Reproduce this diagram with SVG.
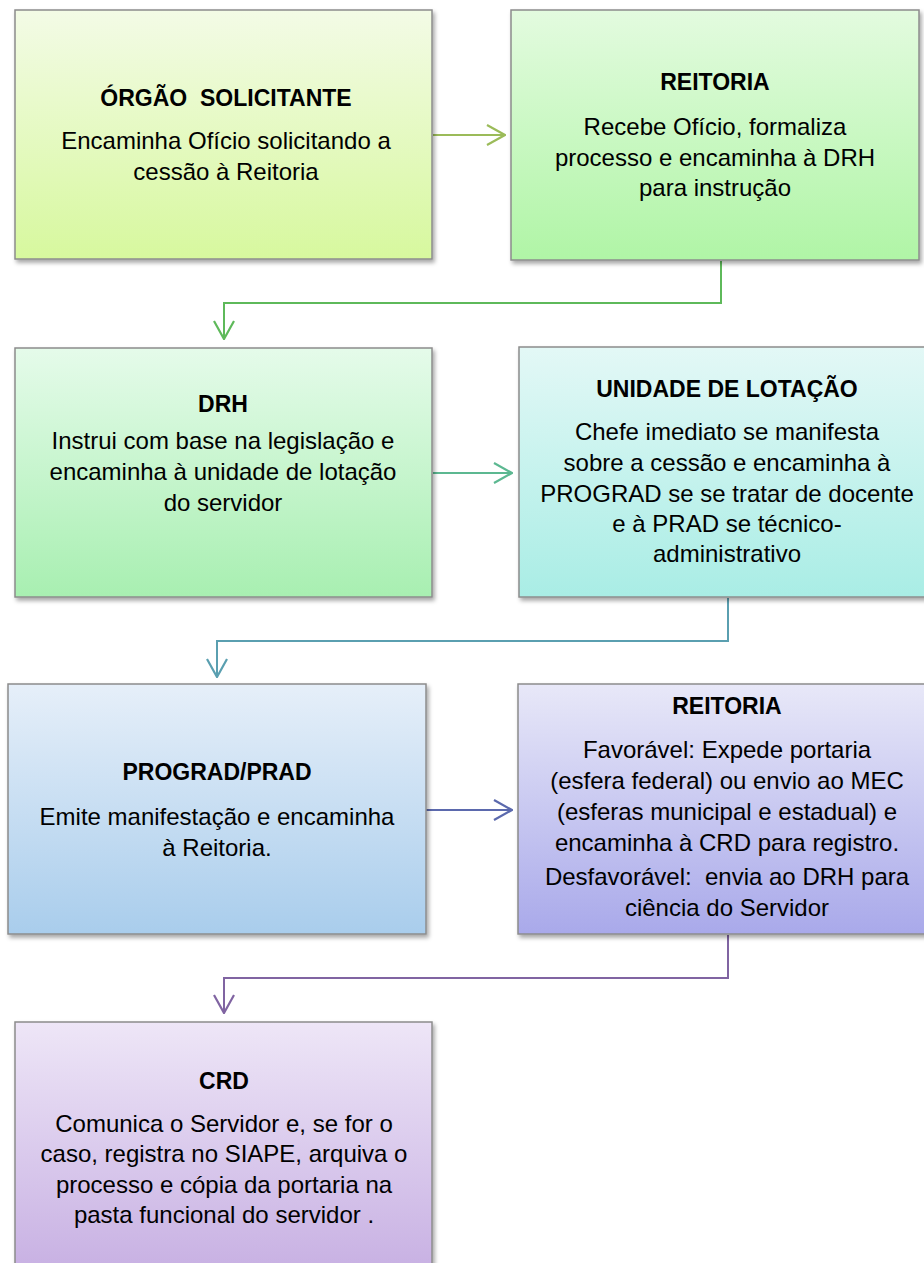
<svg xmlns="http://www.w3.org/2000/svg" width="924" height="1263" viewBox="0 0 924 1263">
<style>
.box{stroke:#8c8c8c;stroke-width:1.5;filter:url(#sh)}
.t{font-family:"Liberation Sans",Arial,sans-serif;font-size:24px;fill:#000;text-anchor:middle;white-space:pre}
.b{font-weight:bold;font-size:23px}
.c{fill:none;stroke-width:2}
</style>
<defs>
<filter id="sh" x="-5%" y="-5%" width="112%" height="115%">
<feDropShadow dx="2" dy="3" stdDeviation="2" flood-color="#000" flood-opacity="0.35"/>
</filter>
<linearGradient id="g1" x1="0" y1="0" x2="0" y2="1"><stop offset="0" stop-color="#f3fbe6"/><stop offset="1" stop-color="#d7f89e"/></linearGradient>
<linearGradient id="g2" x1="0" y1="0" x2="0" y2="1"><stop offset="0" stop-color="#e3fbdf"/><stop offset="1" stop-color="#b0f5a6"/></linearGradient>
<linearGradient id="g3" x1="0" y1="0" x2="0" y2="1"><stop offset="0" stop-color="#e5fbea"/><stop offset="1" stop-color="#a8efb1"/></linearGradient>
<linearGradient id="g4" x1="0" y1="0" x2="0" y2="1"><stop offset="0" stop-color="#e3f8f6"/><stop offset="1" stop-color="#a9ede5"/></linearGradient>
<linearGradient id="g5" x1="0" y1="0" x2="0" y2="1"><stop offset="0" stop-color="#e6eff9"/><stop offset="1" stop-color="#a9cdec"/></linearGradient>
<linearGradient id="g6" x1="0" y1="0" x2="0" y2="1"><stop offset="0" stop-color="#e8e8f8"/><stop offset="1" stop-color="#a9a9ea"/></linearGradient>
<linearGradient id="g7" x1="0" y1="0" x2="0" y2="1"><stop offset="0" stop-color="#eee6f7"/><stop offset="1" stop-color="#c6aee2"/></linearGradient>
<marker id="m1" viewBox="0 0 20 22" refX="19" refY="11" markerWidth="20" markerHeight="22" markerUnits="userSpaceOnUse" orient="auto"><path d="M1,1 L19,11 L1,21" fill="none" stroke="#9bbb59" stroke-width="2.2"/></marker>
<marker id="m2" viewBox="0 0 20 22" refX="19" refY="11" markerWidth="20" markerHeight="22" markerUnits="userSpaceOnUse" orient="auto"><path d="M1,1 L19,11 L1,21" fill="none" stroke="#5eb95a" stroke-width="2.2"/></marker>
<marker id="m3" viewBox="0 0 20 22" refX="19" refY="11" markerWidth="20" markerHeight="22" markerUnits="userSpaceOnUse" orient="auto"><path d="M1,1 L19,11 L1,21" fill="none" stroke="#5cb891" stroke-width="2.2"/></marker>
<marker id="m4" viewBox="0 0 20 22" refX="19" refY="11" markerWidth="20" markerHeight="22" markerUnits="userSpaceOnUse" orient="auto"><path d="M1,1 L19,11 L1,21" fill="none" stroke="#5a9fb0" stroke-width="2.2"/></marker>
<marker id="m5" viewBox="0 0 20 22" refX="19" refY="11" markerWidth="20" markerHeight="22" markerUnits="userSpaceOnUse" orient="auto"><path d="M1,1 L19,11 L1,21" fill="none" stroke="#5b69ad" stroke-width="2.2"/></marker>
<marker id="m6" viewBox="0 0 20 22" refX="19" refY="11" markerWidth="20" markerHeight="22" markerUnits="userSpaceOnUse" orient="auto"><path d="M1,1 L19,11 L1,21" fill="none" stroke="#8064a2" stroke-width="2.2"/></marker>
</defs>
<rect width="924" height="1263" fill="#fff"/>

<g id="connectors">
<path class="c" d="M433,135 H505" stroke="#9bbb59" marker-end="url(#m1)"/>
<path class="c" d="M721,261 V303 H224 V339" stroke="#5eb95a" marker-end="url(#m2)"/>
<path class="c" d="M433,473 H512" stroke="#5cb891" marker-end="url(#m3)"/>
<path class="c" d="M728,598 V641 H217 V677" stroke="#5a9fb0" marker-end="url(#m4)"/>
<path class="c" d="M426,810 H512" stroke="#5b69ad" marker-end="url(#m5)"/>
<path class="c" d="M728,935 V978 H224 V1013" stroke="#8064a2" marker-end="url(#m6)"/>
</g>

<g id="orgao">
<rect class="box" x="15" y="10" width="417" height="249" fill="url(#g1)"/>
<text class="t b" x="226" y="106">ÓRGÃO  SOLICITANTE</text>
<text class="t" x="226" y="149">Encaminha Ofício solicitando a</text>
<text class="t" x="226" y="180">cessão à Reitoria</text>
</g>

<g id="reitoria1">
<rect class="box" x="511" y="10" width="408" height="250" fill="url(#g2)"/>
<text class="t b" x="715" y="90">REITORIA</text>
<text class="t" x="715" y="135">Recebe Ofício, formaliza</text>
<text class="t" x="715" y="166">processo e encaminha à DRH</text>
<text class="t" x="715" y="196">para instrução</text>
</g>

<g id="drh">
<rect class="box" x="15" y="348" width="417" height="249" fill="url(#g3)"/>
<text class="t b" x="223" y="412">DRH</text>
<text class="t" x="223" y="449">Instrui com base na legislação e</text>
<text class="t" x="223" y="480">encaminha à unidade de lotação</text>
<text class="t" x="223" y="511">do servidor</text>
</g>

<g id="unidade">
<rect class="box" x="519" y="347" width="420" height="250" fill="url(#g4)"/>
<text class="t b" x="727" y="397">UNIDADE DE LOTAÇÃO</text>
<text class="t" x="727" y="440">Chefe imediato se manifesta</text>
<text class="t" x="727" y="471">sobre a cessão e encaminha à</text>
<text class="t" x="727" y="502">PROGRAD se se tratar de docente</text>
<text class="t" x="727" y="532">e à PRAD se técnico-</text>
<text class="t" x="727" y="562">administrativo</text>
</g>

<g id="prograd">
<rect class="box" x="8" y="684" width="418" height="250" fill="url(#g5)"/>
<text class="t b" x="217" y="780">PROGRAD/PRAD</text>
<text class="t" x="217" y="825">Emite manifestação e encaminha</text>
<text class="t" x="217" y="856">à Reitoria.</text>
</g>

<g id="reitoria2">
<rect class="box" x="518" y="684" width="420" height="250" fill="url(#g6)"/>
<text class="t b" x="727" y="714">REITORIA</text>
<text class="t" x="727" y="758">Favorável: Expede portaria</text>
<text class="t" x="727" y="789">(esfera federal) ou envio ao MEC</text>
<text class="t" x="727" y="820">(esferas municipal e estadual) e</text>
<text class="t" x="727" y="851">encaminha à CRD para registro.</text>
<text class="t" x="727" y="885">Desfavorável:  envia ao DRH para</text>
<text class="t" x="727" y="916">ciência do Servidor</text>
</g>

<g id="crd">
<rect class="box" x="15" y="1022" width="417" height="260" fill="url(#g7)"/>
<text class="t b" x="224" y="1089">CRD</text>
<text class="t" x="224" y="1132">Comunica o Servidor e, se for o</text>
<text class="t" x="224" y="1162">caso, registra no SIAPE, arquiva o</text>
<text class="t" x="224" y="1193">processo e cópia da portaria na</text>
<text class="t" x="224" y="1223">pasta funcional do servidor .</text>
</g>
</svg>
